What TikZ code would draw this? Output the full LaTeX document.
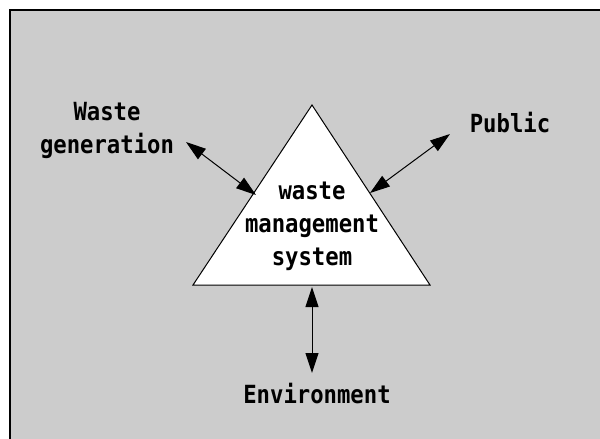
\documentclass[tikz,border=0pt]{standalone}
\usepackage{fontspec}
\newfontfamily\diafont[FakeStretch=0.89]{DejaVu Sans Mono Bold}
\usetikzlibrary{arrows.meta}
\begin{document}
\begin{tikzpicture}[x=1pt,y=-1pt,
  lbl/.style={align=center, inner sep=0pt, font=\diafont\fontsize{25}{33}\selectfont},
  link/.style={line width=1pt, {Triangle[length=20pt,width=13pt]}-{Triangle[length=20pt,width=13pt]}}]
\useasboundingbox (0,0) rectangle (600,439);
\fill[black!20] (10,10) rectangle (620,460);
\draw[line width=2pt] (620,10) -- (10,10) -- (10,460);
\draw[fill=white, line width=1pt] (312,105) -- (430,285) -- (193,285) -- cycle;
\node[lbl] (sys) at (312,226) {waste\\management\\system};
\node[lbl] (wgen) at (107,130) {Waste\\generation};
\node[lbl] (pub) at (510,123) {Public};
\node[lbl] (env) at (317,394) {Environment};
\coordinate (wg1) at (186,142);
\coordinate (wg2) at (256,195);
\coordinate (pb1) at (450,134);
\coordinate (pb2) at (370,193);
\coordinate (en1) at (312,287);
\coordinate (en2) at (312,373);
\draw[link] (wg1) -- (wg2);
\draw[link] (pb1) -- (pb2);
\draw[link] (en1) -- (en2);
\end{tikzpicture}
\end{document}
